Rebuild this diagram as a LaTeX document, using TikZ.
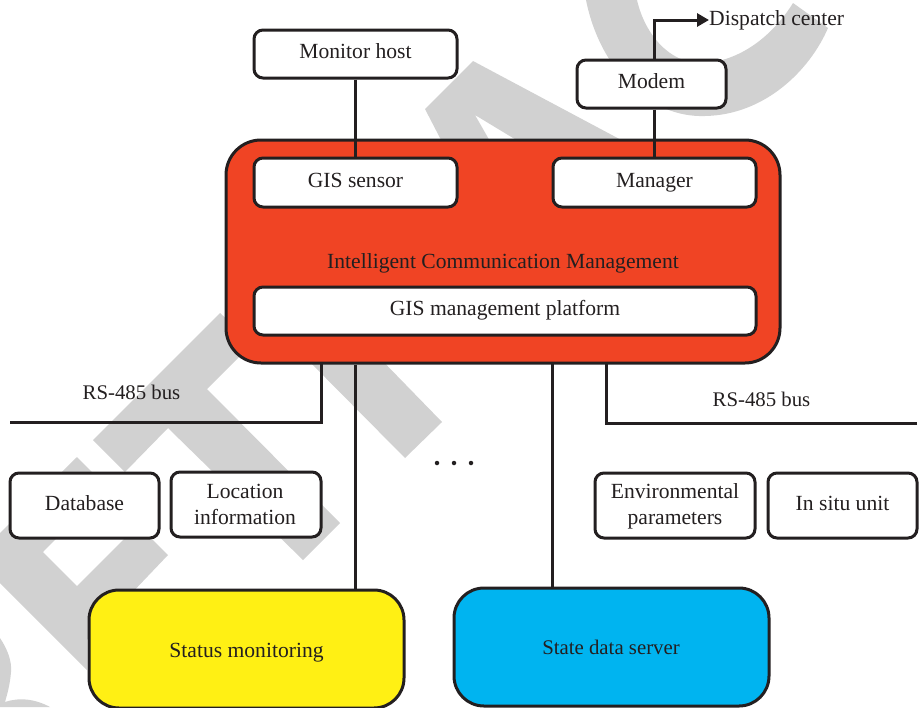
\documentclass[tikz,border=0pt]{standalone}
\usepackage{fontspec}
\setmainfont{Liberation Serif}
\usetikzlibrary{arrows.meta}
\definecolor{wm}{HTML}{D1D1D1}
\definecolor{redb}{HTML}{F04424}
\definecolor{yelb}{HTML}{FFF014}
\definecolor{blub}{HTML}{00B4F0}
\definecolor{ink}{HTML}{231F20}
\tikzset{
  lbl/.style={text=ink,font=\fontsize{21.6}{26}\selectfont,inner sep=0pt,align=center},
  one/.style={lbl,text height=13pt,text depth=4pt},
  small/.style={font=\fontsize{20.8}{26}\selectfont},
  box/.style={one,draw=ink,line width=3pt,rounded corners=#1,inner sep=0pt},
  box/.default=9pt,
  wire/.style={draw=ink,line width=3pt},
  mark dot/.style={circle,fill=ink,inner sep=0pt,minimum size=4.5pt},
  wmark/.style={fill=wm,draw=none}
}
\newcommand{\bx}[7][9pt]{% radius, name, x1,y1,x2,y2, text
  \node[box=#1,fill=white,minimum width={(#5-#3)*1pt},minimum height={(#6-#4)*1pt}] (#2) at ({(#3+#5)/2},{(#4+#6)/2}) {#7};}
\begin{document}
\begin{tikzpicture}[x=1pt,y=-1pt]
\useasboundingbox (0,0) rectangle (923,707);
\clip (0,0) rectangle (923,707);
% watermark
\fill[wmark] (0,533)--(77,457)--(107,487)--(43,552)--(77,586)--(138,525)--(168,555)--(87,640)--(87,670)--(0,583)--cycle;
\fill[wmark] (93,440)--(220,313)--(253,343)--(207,389)--(340,523)--(303,560)--(168,428)--(125,472)--cycle;
\fill[wmark] (300,352)--(370,348)--(442,422)--(405,458)--cycle;
\fill[wmark] (473,61)--(425,109)--(440,138)--(450,150)--(495,150)--(475,115)--(513,138)--(535,150)--(640,150)--cycle;
\fill[wmark] (586,0) .. controls (600,70) and (650,118) .. (705,116) .. controls (765,115) and (810,70) .. (828,28)
  -- (793,3) .. controls (770,40) and (735,63) .. (700,63) .. controls (670,63) and (645,35) .. (637,0) -- cycle;
\fill[wmark] (0,638) .. controls (8,650) and (12,662) .. (11,672) .. controls (10,685) and (7,695) .. (5,702)
  .. controls (20,697) and (35,699) .. (50,707) -- (0,707) -- cycle;
% main box
\node[box=35pt,fill=redb,minimum width=554pt,minimum height=223pt] (red) at (503,251.5) {};
% free ends and taps
\coordinate (tapL) at (321,363);
\coordinate (tapR) at (606,363);
\coordinate (tapS) at (552,363);
\coordinate (busL) at (10,422);
\coordinate (busR) at (917,423);
% boxes
\bx{mon}{254}{30}{457}{78}{Monitor host}
\bx{modem}{577}{60}{726}{108}{Modem}
\bx{gis}{254}{158}{457}{207}{GIS sensor}
\bx{mgr}{553}{158}{756}{207}{Manager}
\bx{plat}{254}{287}{756}{335}{GIS management platform}
\bx{db}{10}{473}{159}{538}{Database}
\bx{loc}{171}{472}{321}{537}{}
\bx{env}{595}{473}{755}{538}{}
\bx{situ}{768}{473}{917}{538}{In situ unit}
\node[lbl] (locl) at (245,504.5) {Location\\information};
\node[lbl] (envl) at (675,506.5) {Environmental\\parameters};
\node[box=30pt,fill=yelb,minimum width=315pt,minimum height=118pt] (stat) at (246.5,649) {};
\node[box=30pt,fill=blub,minimum width=315pt,minimum height=118pt] (serv) at (611.5,647) {};
\node[one] (statl) at (246.5,653) {Status monitoring};
\node[one,small] (servl) at (611,650) {State data server};
\node[one] (redl) at (503,264) {Intelligent Communication Management};
\node[one,small] (bl) at (131.5,395) {RS-485 bus};
\node[one,small] (br) at (761.5,402) {RS-485 bus};
\node[one,anchor=west,text depth=2pt] (dc) at (709,20) {Dispatch center};
\node[mark dot] (d1) at (437,463) {};
\node[mark dot] (d2) at (454,463) {};
\node[mark dot] (d3) at (471,463) {};
% connectors
\draw[wire] (mon.south) -- (gis.north);
\draw[wire] (modem.south -| mgr.north) -- (mgr.north);
\draw[wire,-{Triangle[length=12pt,width=13pt]}] (modem.north -| mgr.north) |- (dc.west);
\draw[wire,line join=miter] (busL) -| (tapL);
\draw[wire,line join=miter] (busR) -| (tapR);
\draw[wire] (red.south -| gis.south) -- (stat.north -| gis.south);
\draw[wire] (tapS) -- (serv.north -| tapS);
\end{tikzpicture}
\end{document}
